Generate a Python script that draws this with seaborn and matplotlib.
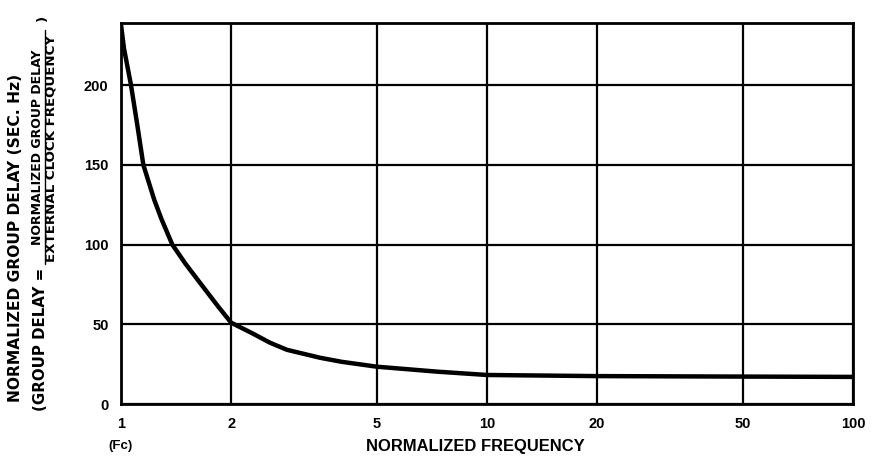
import matplotlib
matplotlib.use("Agg")
import matplotlib.pyplot as plt
import seaborn as sns
import pandas as pd
from matplotlib.lines import Line2D

# Data
freq = [1.0, 1.019, 1.065, 1.108, 1.151, 1.233, 1.29, 1.381, 1.5, 1.644, 1.845, 2.0,
        2.30, 2.55, 2.84, 3.5, 4.0, 5.0, 7.3, 10.0, 20.0, 50.0, 100.0]
delay = [238, 223, 200, 175, 150, 128, 116, 100, 88, 76, 61, 51,
         44, 38.5, 34, 29, 26.5, 23.4, 20.3, 18.2, 17.5, 17.2, 17]
xticks = [1, 2, 5, 10, 20, 50, 100]
xticklabels = ["1", "2", "5", "10", "20", "50", "100"]
yticks = [0, 50, 100, 150, 200]

df = pd.DataFrame({"freq": freq, "delay": delay})

sns.set_style("white")
plt.rcParams["font.family"] = ["Liberation Sans", "DejaVu Sans"]
plt.rcParams["text.color"] = "black"
plt.rcParams["xtick.color"] = "black"
plt.rcParams["ytick.color"] = "black"
plt.rcParams["axes.labelcolor"] = "black"

W, H = 877, 467
fig = plt.figure(figsize=(W / 100, H / 100), dpi=100)
ax = fig.add_axes([121 / W, 1 - 404 / H, (853 - 121) / W, (404 - 23) / H])

sns.lineplot(data=df, x="freq", y="delay", ax=ax, color="black", linewidth=3.2)

ax.set_xscale("log")
ax.set_xlim(1, 100)
ax.set_ylim(0, 239)
ax.set_xticks(xticks)
ax.set_xticklabels(xticklabels)
ax.xaxis.set_minor_locator(matplotlib.ticker.NullLocator())
ax.set_yticks(yticks)
ax.tick_params(axis="both", length=0, labelsize=10.5, pad=9, colors="black")
for lab in ax.get_xticklabels() + ax.get_yticklabels():
    lab.set_fontweight("bold")

ax.grid(True, which="major", color="black", linewidth=1.6)
for s in ax.spines.values():
    s.set_visible(True)
    s.set_color("black")
    s.set_linewidth(2.0)
ax.set_xlabel("")
ax.set_ylabel("")

renderer = fig.canvas.get_renderer()


def fit_text(x_px, y_px, s, target_len, rotation=0, family="DejaVu Sans", **kw):
    t = fig.text(x_px / W, 1 - y_px / H, s, rotation=rotation, fontsize=10,
                 fontweight="bold", family=family, color="black", **kw)
    bb = t.get_window_extent(renderer=renderer)
    cur = bb.height if rotation == 90 else bb.width
    t.set_fontsize(10 * target_len / cur)
    return t


# x-axis texts
fig.text(121 / W, 1 - 446 / H, "(Fc)", ha="center", va="center", fontsize=9.5, fontweight="bold")
fit_text(475, 446, "NORMALIZED FREQUENCY", 218, family="Liberation Sans", ha="center", va="center")

# y-axis texts
fit_text(16, 238, "NORMALIZED GROUP DELAY (SEC. Hz)", 330, rotation=90, ha="center", va="center")
fit_text(41, 339, "(GROUP DELAY =", 144, rotation=90, ha="center", va="center")
fit_text(37.5, 147, "NORMALIZED GROUP DELAY", 197, rotation=90, ha="center", va="center")
fit_text(51, 148, "EXTERNAL CLOCK FREQUENCY", 229, rotation=90, ha="center", va="center")
fig.add_artist(Line2D([44.5 / W, 44.5 / W], [1 - 264 / H, 1 - 30 / H], color="black", linewidth=1.0,
                      transform=fig.transFigure))
fig.text(42 / W, 1 - 18 / H, ")", rotation=90, ha="center", va="center", fontsize=9.5,
         fontweight="bold", family="DejaVu Sans")

fig.savefig("out.png", dpi=100)
